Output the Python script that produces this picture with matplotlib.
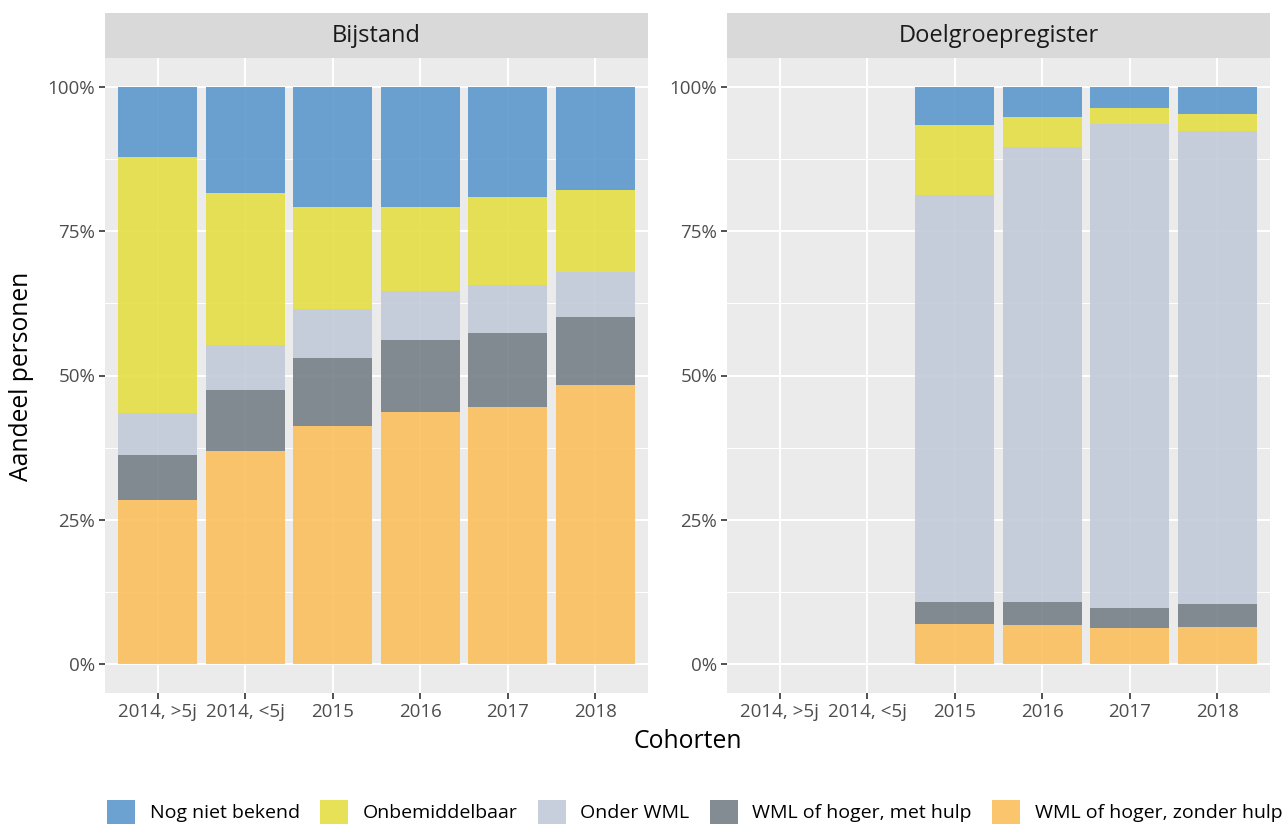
import matplotlib
matplotlib.use("Agg")
import matplotlib.pyplot as plt
from matplotlib.patches import Patch
import numpy as np

plt.rcParams["font.family"] = ["Open Sans", "DejaVu Sans"]

cohorts = ["2014, >5j", "2014, <5j", "2015", "2016", "2017", "2018"]
panels = ["Bijstand", "Doelgroepregister"]
categories = ["WML of hoger, zonder hulp", "WML of hoger, met hulp", "Onder WML",
              "Onbemiddelbaar", "Nog niet bekend"]

# shares (%) per cohort, bottom to top of the stack
bijstand = {
    "WML of hoger, zonder hulp": [28.5, 36.9, 41.2, 43.6, 44.5, 48.3],
    "WML of hoger, met hulp":    [7.8, 10.6, 11.8, 12.6, 12.8, 11.8],
    "Onder WML":                 [7.2, 7.7, 8.5, 8.4, 8.4, 7.8],
    "Onbemiddelbaar":            [44.3, 26.4, 17.7, 14.6, 15.3, 14.3],
    "Nog niet bekend":           [12.2, 18.4, 20.8, 20.8, 19.0, 17.8],
}
doelgroep = {
    "WML of hoger, zonder hulp": [0, 0, 7.0, 6.8, 6.2, 6.5],
    "WML of hoger, met hulp":    [0, 0, 3.8, 3.9, 3.5, 3.9],
    "Onder WML":                 [0, 0, 70.4, 78.8, 83.8, 82.0],
    "Onbemiddelbaar":            [0, 0, 12.2, 5.3, 2.9, 2.9],
    "Nog niet bekend":           [0, 0, 6.6, 5.2, 3.6, 4.7],
}

colors = {
    "Nog niet bekend": "#5c98cc",
    "Onbemiddelbaar": "#e4de44",
    "Onder WML": "#c1c9d9",
    "WML of hoger, met hulp": "#768086",
    "WML of hoger, zonder hulp": "#fbbf5e",
}

W, H = 1287, 825
fig = plt.figure(figsize=(W / 100, H / 100), dpi=100)

panel_left = [105, 727]
panel_w = 543
y_top, y_bot = 58, 693
strip_top = 13

x = np.arange(1, len(cohorts) + 1)
for i, (name, data) in enumerate(zip(panels, [bijstand, doelgroep])):
    ax = fig.add_axes([panel_left[i] / W, (H - y_bot) / H, panel_w / W, (y_bot - y_top) / H])
    ax.set_facecolor("#ebebeb")
    bottom = np.zeros(len(cohorts))
    for cat in categories:
        vals = np.array(data[cat]) / 100
        ax.bar(x, vals, width=0.9, bottom=bottom, color=colors[cat], alpha=0.9,
               linewidth=0, zorder=3)
        bottom += vals
    ax.set_xlim(0.4, 6.6)
    ax.set_ylim(-0.05, 1.05)
    ax.set_xticks(x)
    ax.set_xticklabels(cohorts)
    ax.set_yticks([0, 0.25, 0.5, 0.75, 1.0])
    ax.set_yticklabels(["0%", "25%", "50%", "75%", "100%"])
    ax.set_yticks([0.125, 0.375, 0.625, 0.875], minor=True)
    ax.grid(True, which="major", color="white", lw=1.4, zorder=0)
    ax.grid(True, which="minor", axis="y", color="white", lw=0.7, zorder=0)
    ax.tick_params(which="major", length=4, width=1.2, color="#333333",
                   labelcolor="#4d4d4d", labelsize=13.5, pad=3)
    ax.tick_params(which="minor", length=0)
    for s in ax.spines.values():
        s.set_visible(False)

    sax = fig.add_axes([panel_left[i] / W, (H - y_top) / H, panel_w / W, (y_top - strip_top) / H])
    sax.set_facecolor("#d9d9d9")
    sax.set_xticks([])
    sax.set_yticks([])
    for s in sax.spines.values():
        s.set_visible(False)
    sax.text(0.5, 0.5, name, ha="center", va="center", fontsize=17,
             color="#1a1a1a", transform=sax.transAxes)

fig.text(688 / W, (H - 742) / H, "Cohorten", ha="center", va="center", fontsize=17.8)
fig.text(22 / W, (H - 376) / H, "Aandeel personen", ha="center", va="center",
         rotation=90, fontsize=17.7)

legend_order = ["Nog niet bekend", "Onbemiddelbaar", "Onder WML",
                "WML of hoger, met hulp", "WML of hoger, zonder hulp"]
handles = [Patch(facecolor=colors[c], alpha=0.9, linewidth=0) for c in legend_order]
fig.legend(handles, legend_order, loc="center left", bbox_to_anchor=(107 / W, (H - 812) / H),
           ncol=5, frameon=False, fontsize=14, handlelength=1.45, handleheight=1.45,
           handletextpad=0.75, columnspacing=1.03, borderpad=0, borderaxespad=0)

fig.savefig("out.png", dpi=100, facecolor="white")
